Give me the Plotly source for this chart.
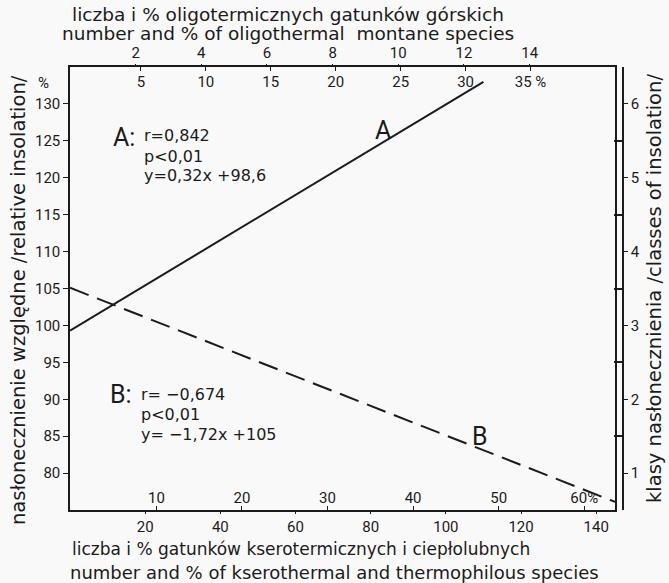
import plotly.graph_objects as go

# ---- data ----
left_ticks = [75, 80, 85, 90, 95, 100, 105, 110, 115, 120, 125, 130]
class_ticks = [1, 2, 3, 4, 5, 6]
class_bounds = [1.5, 2.5, 3.5, 4.5, 5.5]
bottom_num_ticks = [20, 40, 60, 80, 100, 120, 140]
bottom_pct_ticks = [10, 20, 30, 40, 50, 60]
bottom_pct_labels = ["10", "20", "30", "40", "50", "60%"]
top_num_ticks = [2, 4, 6, 8, 10, 12, 14]
top_pct_ticks = [5, 10, 15, 20, 25, 30, 35]
top_pct_labels = ["5", "10", "15", "20", "25", "30", "35 %"]

line_a_x = [0, 110]
line_a_y = [99.3, 133.0]
line_b_x = [0, 145]
line_b_y = [105.1, 76.1]

stats_a = ["r=0,842", "p<0,01", "y=0,32x +98,6"]
stats_b = ["r= −0,674", "p<0,01", "y= −1,72x +105"]

INK = "#1b1b1b"
BG = "#f9f9f9"
FONT = "Roboto"
TFONT = "DejaVu Sans"

fig = go.Figure()
fig.add_trace(go.Scatter(x=line_a_x, y=line_a_y, mode="lines",
                         line=dict(color=INK, width=2), showlegend=False, hoverinfo="skip"))
fig.add_trace(go.Scatter(x=line_b_x, y=line_b_y, mode="lines",
                         line=dict(color=INK, width=2, dash="20px,9px"), showlegend=False, hoverinfo="skip"))
# invisible traces so every scale is bound
fig.add_trace(go.Scatter(x=[None], y=[None], xaxis="x2", yaxis="y", showlegend=False))
fig.add_trace(go.Scatter(x=[None], y=[None], xaxis="x3", yaxis="y", showlegend=False))
fig.add_trace(go.Scatter(x=[None], y=[None], xaxis="x4", yaxis="y", showlegend=False))
fig.add_trace(go.Scatter(x=[None], y=[None], xaxis="x", yaxis="y2", showlegend=False))

dom = [0, 545 / 553]
tickfont = dict(family=FONT, size=15, color=INK)

fig.update_layout(
    width=669, height=583,
    margin=dict(l=70, r=46, t=67, b=73),
    paper_bgcolor=BG, plot_bgcolor=BG,
    font=dict(family=FONT, color=INK),
    showlegend=False,
    xaxis=dict(domain=dom, range=[0, 145], tickmode="array", tickvals=bottom_num_ticks,
               ticks="outside", ticklen=2, tickcolor=INK, showgrid=False, zeroline=False,
               showline=True, linecolor=INK, linewidth=1.5, mirror=True, tickfont=tickfont),
    xaxis3=dict(overlaying="x", side="bottom", anchor="y", range=[-0.1, 63.6], tickmode="array",
                tickvals=bottom_pct_ticks, ticktext=bottom_pct_labels, ticklabelposition="inside",
                ticks="inside", ticklen=4, tickcolor=INK, showgrid=False, zeroline=False,
                showline=False, tickfont=tickfont),
    xaxis2=dict(overlaying="x", side="top", anchor="y", range=[0, 16.6], tickmode="array",
                tickvals=top_num_ticks, ticks="outside", ticklen=2, tickcolor=INK,
                showgrid=False, zeroline=False, showline=False, tickfont=tickfont),
    xaxis4=dict(overlaying="x", side="top", anchor="y", range=[-0.46, 41.5], tickmode="array",
                tickvals=top_pct_ticks, ticktext=top_pct_labels, ticklabelposition="inside",
                ticklabelstandoff=5,
                ticks="inside", ticklen=4, tickcolor=INK, showgrid=False, zeroline=False,
                showline=False, tickfont=tickfont),
    yaxis=dict(range=[75, 135], tickmode="array", tickvals=left_ticks, ticks="outside",
               ticklen=5, tickcolor=INK, showgrid=False, zeroline=False, showline=True,
               linecolor=INK, linewidth=1.5, mirror=True, tickfont=tickfont),
    yaxis2=dict(overlaying="y", anchor="free", position=1.0, side="right", range=[0.5, 6.5],
                tickmode="array", tickvals=class_ticks, ticks="outside", ticklen=4,
                tickcolor=INK, showgrid=False, zeroline=False, showline=True, linecolor=INK,
                linewidth=1.5, tickfont=tickfont,
                minor=dict(tickmode="array", tickvals=class_bounds, ticks="inside",
                           ticklen=8, tickwidth=1.5, tickcolor=INK, showgrid=False)),
)

ann_font = dict(family=TFONT, size=16, color=INK)
big_font = dict(family=FONT, size=25, color=INK)
annotations = [
    dict(x=0, y=132.9, xref="paper", yref="y", xshift=-27, text="%",
         font=dict(family=FONT, size=15, color=INK)),
    dict(x=14.4, y=125.5, text="A:", font=big_font),
    dict(x=83.2, y=126.4, text="A", font=big_font),
    dict(x=13.6, y=90.6, text="B:", font=big_font),
    dict(x=109, y=84.9, text="B", font=big_font),
    dict(x=0.394, y=1.1174, xref="paper", yref="paper",
         text="liczba i % oligotermicznych gatunków górskich",
         font=dict(family=TFONT, size=18.5, color=INK)),
    dict(x=0.394, y=1.0745, xref="paper", yref="paper",
         text="number and % of oligothermal  montane species",
         font=dict(family=TFONT, size=18.5, color=INK)),
    dict(x=0.0, y=-0.088, xref="paper", yref="paper", xanchor="left",
         text="liczba i % gatunków kserotermicznych i ciepłolubnych",
         font=dict(family=TFONT, size=17, color=INK)),
    dict(x=-0.004, y=-0.14, xref="paper", yref="paper", xanchor="left",
         text="number and % of kserothermal and thermophilous species",
         font=dict(family=TFONT, size=18, color=INK)),
    dict(x=-0.094, y=0.474, xref="paper", yref="paper", textangle=-90,
         text="nasłonecznienie względne /relative insolation/",
         font=dict(family=TFONT, size=19.5, color=INK)),
    dict(x=1.058, y=0.499, xref="paper", yref="paper", textangle=-90,
         text="klasy nasłonecznienia /classes of insolation/",
         font=dict(family=TFONT, size=19.5, color=INK)),
]
for ys, txt in zip([125.7, 122.9, 120.3], stats_a):
    annotations.append(dict(x=19.2, y=ys, text=txt, xanchor="left", font=ann_font))
for ys, txt in zip([90.6, 87.9, 85.2], stats_b):
    annotations.append(dict(x=18.4, y=ys, text=txt, xanchor="left", font=ann_font))

for a in annotations:
    a.setdefault("showarrow", False)
    a.setdefault("xref", "x")
    a.setdefault("yref", "y")
    a.setdefault("xanchor", "center")
    a.setdefault("yanchor", "middle")
fig.update_layout(annotations=annotations)

fig.write_html("out.html")
